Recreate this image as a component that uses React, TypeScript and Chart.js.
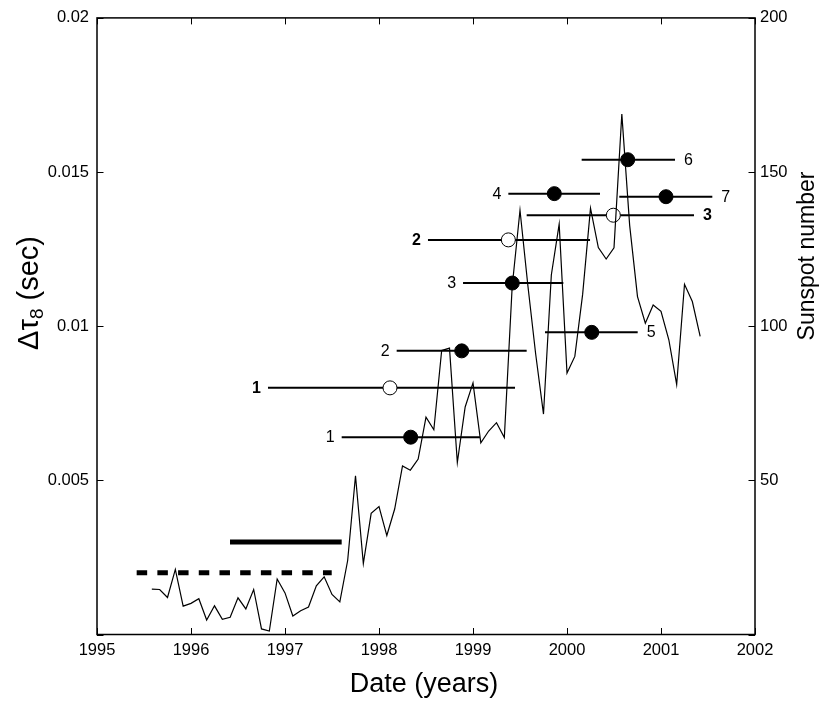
import React, { useEffect, useRef } from 'react';
import { Chart, registerables } from 'chart.js';

Chart.register(...registerables);

const FONT = "'Liberation Sans', Arial, Helvetica, sans-serif";

// Monthly sunspot numbers starting July 1995
const START_YEAR = 1995;
const START_MONTH = 7;
const sunspotNumbers = [
  14.7, 14.6, 12.0, 21.1, 9.2, 10.1, 11.6, 4.7, 9.3, 4.9,
  5.6, 11.9, 8.3, 14.6, 1.8, 1.1, 18.0, 13.5, 6.0, 7.7,
  8.9, 15.8, 18.7, 13.0, 10.6, 24.0, 51.5, 23.0, 39.3, 41.5,
  32.1, 40.7, 54.7, 53.3, 56.9, 70.5, 66.4, 92.1, 92.9, 55.8,
  73.8, 81.6, 62.2, 66.0, 68.7, 63.9, 112.8, 137.6, 113.3, 91.0,
  71.5, 116.6, 133.1, 84.8, 90.2, 110.4, 138.3, 125.5, 121.8, 125.4,
  168.8, 132.7, 109.6, 101.0, 106.9, 104.8, 95.6, 81.1, 113.6, 108.0, 96.7,
];
const sunspotDates = sunspotNumbers.map((_, i) => START_YEAR + (START_MONTH + i) / 12);

// Filled-circle measurements (delay, date and date range)
const filledLabels = ['1', '2', '3', '4', '5', '6', '7'];
const filledDate = [1998.337, 1998.88, 1999.418, 1999.865, 2000.263, 2000.646, 2001.053];
const filledDelay = [0.0064, 0.0092, 0.0114, 0.0143, 0.0098, 0.0154, 0.0142];
const filledStart = [1997.603, 1998.188, 1998.894, 1999.376, 1999.766, 2000.156, 2000.556];
const filledEnd = [1999.074, 1999.571, 1999.961, 2000.351, 2000.752, 2001.149, 2001.546];
const filledLabelSide = ['left', 'left', 'left', 'left', 'right', 'right', 'right'];

// Open-circle measurements
const openLabels = ['1', '2', '3'];
const openDate = [1998.117, 1999.376, 2000.493];
const openDelay = [0.008, 0.0128, 0.0136];
const openStart = [1996.819, 1998.521, 1999.571];
const openEnd = [1999.447, 2000.245, 2001.351];
const openLabelSide = ['left', 'left', 'right'];

// Thick reference bars
const solidBarRange = [1996.415, 1997.603];
const solidBarValue = 0.003;
const dashedBarRange = [1995.422, 1997.497];
const dashedBarValue = 0.002;

// Axis ticks
const xTicks = [1995, 1996, 1997, 1998, 1999, 2000, 2001, 2002];
const yTicks = [0, 0.005, 0.01, 0.015, 0.02];
const y2Ticks = [0, 50, 100, 150, 200];

const decorPlugin = {
  id: 'decor',
  afterDraw(chart: any) {
    const ctx = chart.ctx;
    const { left, right, top, bottom } = chart.chartArea;
    const xs = chart.scales.x;
    const ys = chart.scales.y;
    const y2s = chart.scales.y2;
    ctx.save();
    ctx.strokeStyle = '#000';
    ctx.fillStyle = '#000';

    // frame
    ctx.lineWidth = 1.5;
    ctx.strokeRect(left, top, right - left, bottom - top);

    // inward ticks
    ctx.lineWidth = 1;
    const TL = 6.5;
    ctx.beginPath();
    xTicks.forEach((v) => {
      const px = Math.round(xs.getPixelForValue(v)) + 0.5;
      ctx.moveTo(px, bottom);
      ctx.lineTo(px, bottom - TL);
      ctx.moveTo(px, top);
      ctx.lineTo(px, top + TL);
    });
    yTicks.forEach((v) => {
      const py = Math.round(ys.getPixelForValue(v)) + 0.5;
      ctx.moveTo(left, py);
      ctx.lineTo(left + TL, py);
    });
    y2Ticks.forEach((v) => {
      const py = Math.round(y2s.getPixelForValue(v)) + 0.5;
      ctx.moveTo(right, py);
      ctx.lineTo(right - TL, py);
    });
    ctx.stroke();

    // point labels
    ctx.textBaseline = 'middle';
    const drawLabel = (txt: string, side: string, start: number, end: number, val: number, bold: boolean) => {
      ctx.font = (bold ? 'bold ' : '') + '16px ' + FONT;
      const py = ys.getPixelForValue(val);
      if (side === 'left') {
        ctx.textAlign = 'right';
        ctx.fillText(txt, xs.getPixelForValue(start) - 7, py + 0.5);
      } else {
        ctx.textAlign = 'left';
        ctx.fillText(txt, xs.getPixelForValue(end) + 9, py + 0.5);
      }
    };
    filledLabels.forEach((t, i) =>
      drawLabel(t, filledLabelSide[i], filledStart[i], filledEnd[i], filledDelay[i], false)
    );
    openLabels.forEach((t, i) =>
      drawLabel(t, openLabelSide[i], openStart[i], openEnd[i], openDelay[i], true)
    );

    // x title
    ctx.font = '27px ' + FONT;
    ctx.textAlign = 'center';
    ctx.fillText('Date (years)', 424, 685);

    // right title
    ctx.save();
    ctx.translate(808, 256);
    ctx.rotate(-Math.PI / 2);
    ctx.font = '23px ' + FONT;
    ctx.fillText('Sunspot number', 0, 0);
    ctx.restore();

    // left title with subscript
    const big = '29px ' + FONT;
    const small = '19px ' + FONT;
    ctx.save();
    ctx.translate(30, 293);
    ctx.rotate(-Math.PI / 2);
    ctx.textAlign = 'left';
    ctx.font = big;
    const p1 = 'Δτ';
    const p3 = ' (sec)';
    const w1 = ctx.measureText(p1).width;
    const w3 = ctx.measureText(p3).width;
    ctx.font = small;
    const w2 = ctx.measureText('8').width;
    const total = w1 + w2 + w3;
    let cx = -total / 2;
    ctx.font = big;
    ctx.fillText(p1, cx, 0);
    cx += w1;
    ctx.font = small;
    ctx.fillText('8', cx, 8);
    cx += w2;
    ctx.font = big;
    ctx.fillText(p3, cx, 0);
    ctx.restore();

    ctx.restore();
  },
};

export default function App() {
  const ref = useRef<HTMLCanvasElement | null>(null);

  useEffect(() => {
    if (!ref.current) return;

    const barDatasets: any[] = [];
    filledLabels.forEach((_, i) => {
      barDatasets.push({
        data: [
          { x: filledStart[i], y: filledDelay[i] },
          { x: filledEnd[i], y: filledDelay[i] },
        ],
        showLine: true,
        borderColor: '#000',
        borderWidth: 2,
        pointRadius: 0,
        yAxisID: 'y',
        order: 3,
      });
    });
    openLabels.forEach((_, i) => {
      barDatasets.push({
        data: [
          { x: openStart[i], y: openDelay[i] },
          { x: openEnd[i], y: openDelay[i] },
        ],
        showLine: true,
        borderColor: '#000',
        borderWidth: 2,
        pointRadius: 0,
        yAxisID: 'y',
        order: 3,
      });
    });

    const chart = new Chart(ref.current, {
      type: 'scatter',
      data: {
        datasets: [
          {
            data: sunspotDates.map((d, i) => ({ x: d, y: sunspotNumbers[i] })),
            showLine: true,
            borderColor: '#000',
            borderWidth: 1.2,
            pointRadius: 0,
            yAxisID: 'y2',
            order: 0,
          },
          {
            data: filledDate.map((d, i) => ({ x: d, y: filledDelay[i] })),
            pointRadius: 7,
            pointBackgroundColor: '#000',
            pointBorderColor: '#000',
            pointBorderWidth: 1,
            yAxisID: 'y',
            order: 1,
          },
          {
            data: openDate.map((d, i) => ({ x: d, y: openDelay[i] })),
            pointRadius: 7,
            pointBackgroundColor: '#fff',
            pointBorderColor: '#000',
            pointBorderWidth: 1,
            yAxisID: 'y',
            order: 1,
          },
          {
            data: [
              { x: solidBarRange[0], y: solidBarValue },
              { x: solidBarRange[1], y: solidBarValue },
            ],
            showLine: true,
            borderColor: '#000',
            borderWidth: 5,
            borderCapStyle: 'butt',
            pointRadius: 0,
            yAxisID: 'y',
            order: 2,
          },
          {
            data: [
              { x: dashedBarRange[0], y: dashedBarValue },
              { x: dashedBarRange[1], y: dashedBarValue },
            ],
            showLine: true,
            borderColor: '#000',
            borderWidth: 5,
            borderDash: [10.5, 10.2],
            borderCapStyle: 'butt',
            pointRadius: 0,
            yAxisID: 'y',
            order: 2,
          },
          ...barDatasets,
        ],
      },
      options: {
        animation: false,
        responsive: false,
        events: [],
        layout: { padding: { top: 15, left: 0, right: 0, bottom: 0 } },
        plugins: {
          legend: { display: false },
          tooltip: { enabled: false },
          title: { display: false },
        },
        scales: {
          x: {
            type: 'linear',
            min: xTicks[0],
            max: xTicks[xTicks.length - 1],
            afterBuildTicks: (s: any) => {
              s.ticks = xTicks.map((v) => ({ value: v }));
            },
            ticks: {
              callback: (v: any) => String(v),
              font: { family: FONT, size: 16.5 },
              color: '#000',
              padding: 6,
              maxRotation: 0,
              autoSkip: false,
            },
            grid: { display: false, drawTicks: false },
            border: { display: false },
            afterFit: (s: any) => {
              s.height = 68.5;
            },
          },
          y: {
            type: 'linear',
            position: 'left',
            min: 0,
            max: 0.02,
            afterBuildTicks: (s: any) => {
              s.ticks = yTicks.map((v) => ({ value: v }));
            },
            ticks: {
              callback: (v: any) => (v === 0 ? '' : String(+Number(v).toFixed(3))),
              font: { family: FONT, size: 16.5 },
              color: '#000',
              padding: 8,
            },
            grid: { display: false, drawTicks: false },
            border: { display: false },
            afterFit: (s: any) => {
              s.width = 97;
            },
          },
          y2: {
            type: 'linear',
            position: 'right',
            min: 0,
            max: 200,
            afterBuildTicks: (s: any) => {
              s.ticks = y2Ticks.map((v) => ({ value: v }));
            },
            ticks: {
              callback: (v: any) => (v === 0 ? '' : String(v)),
              font: { family: FONT, size: 16.5 },
              color: '#000',
              padding: 5,
            },
            grid: { display: false, drawTicks: false },
            border: { display: false },
            afterFit: (s: any) => {
              s.width = 75;
            },
          },
        },
      } as any,
      plugins: [decorPlugin],
    });

    return () => chart.destroy();
  }, []);

  return (
    <div style={{ position: 'absolute', left: 0, top: 0, width: 830, height: 703, background: '#fff' }}>
      <canvas ref={ref} width={830} height={703} style={{ width: 830, height: 703, display: 'block' }} />
    </div>
  );
}
